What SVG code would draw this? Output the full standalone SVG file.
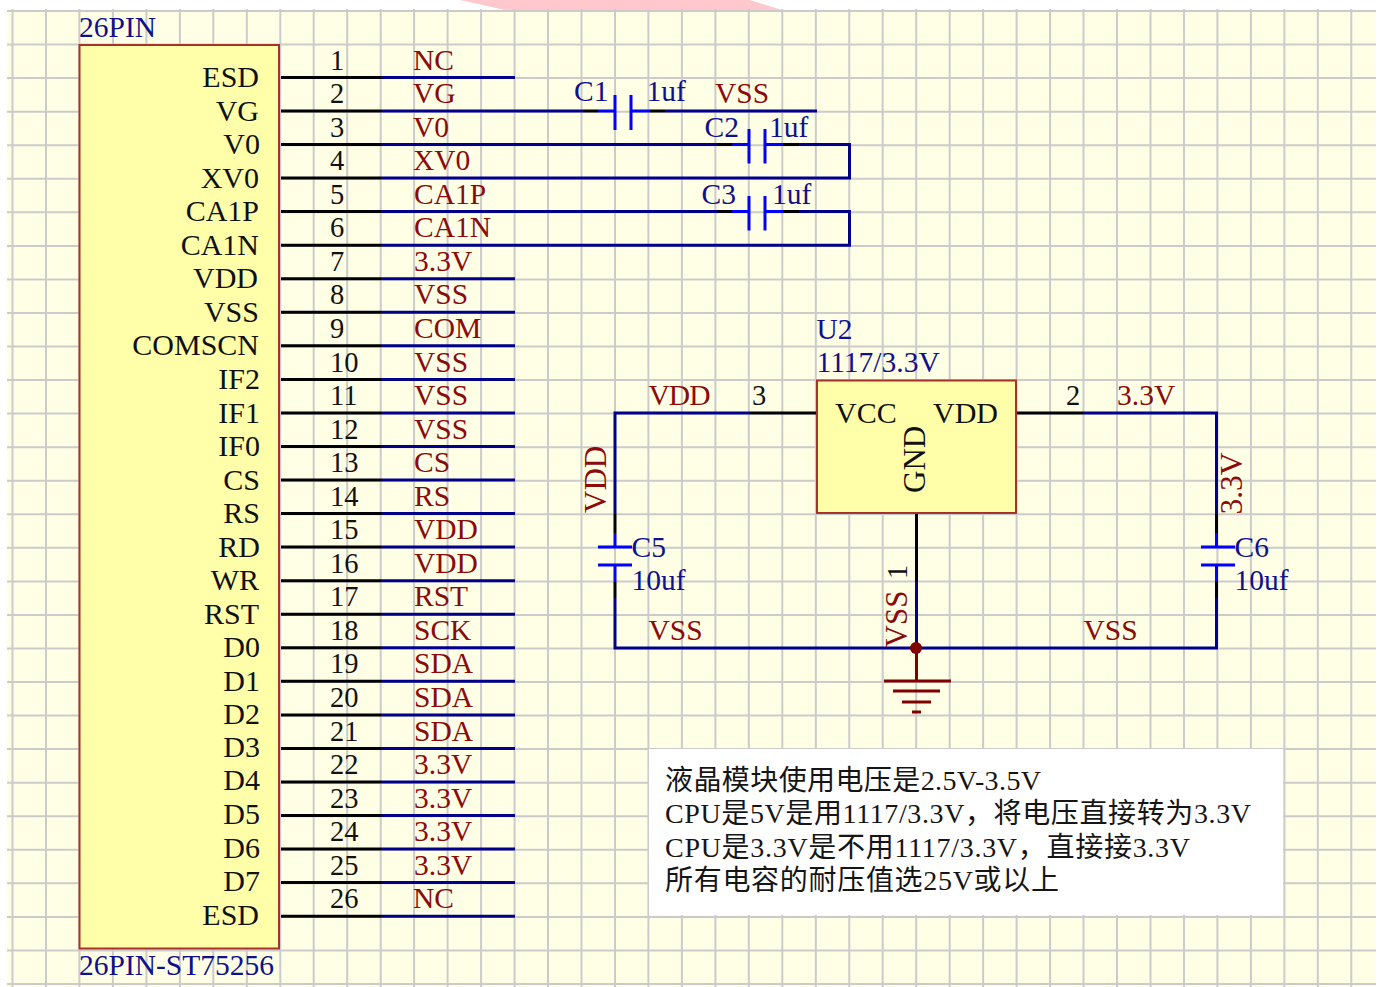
<svg xmlns="http://www.w3.org/2000/svg" width="1380" height="987" viewBox="0 0 1380 987">
<style>
text{font-family:"Liberation Serif","Noto Sans CJK SC",serif;font-size:29.5px}
.nm{fill:#111;text-anchor:end;font-size:30px}
.no{fill:#111;font-size:28.5px}
.net{fill:#8b0a0a}
.des{fill:#10108c}
.note{fill:#151515;font-size:28px}
.rot{font-size:31px}
.grid{stroke:#cbcbcb;stroke-width:2;fill:none}
.navy{stroke:#00008b;stroke-width:3;fill:none}
.blk{stroke:#000;stroke-width:3;fill:none}
.cap{stroke:#0000ff;stroke-width:3;fill:none}
.gnd{stroke:#800000;stroke-width:3;fill:none}
.box{fill:#ffffaa;stroke:#a5332a;stroke-width:2}
</style>
<rect width="1380" height="987" fill="#fff"/>
<path d="M460 0H750L782 10H505Z" fill="#ffc8cc"/>
<rect x="7" y="10" width="1369" height="977" fill="#ffffe6"/>
<path class="grid" d="M12.5 9V987M46 9V987M79.4 9V987M112.9 9V987M146.4 9V987M179.9 9V987M213.3 9V987M246.8 9V987M280.3 9V987M313.7 9V987M347.2 9V987M380.7 9V987M414.1 9V987M447.6 9V987M481.1 9V987M514.6 9V987M548 9V987M581.5 9V987M615 9V987M648.4 9V987M681.9 9V987M715.4 9V987M748.8 9V987M782.3 9V987M815.8 9V987M849.3 9V987M882.7 9V987M916.2 9V987M949.7 9V987M983.1 9V987M1016.6 9V987M1050.1 9V987M1083.5 9V987M1117 9V987M1150.5 9V987M1184 9V987M1217.4 9V987M1250.9 9V987M1284.4 9V987M1317.8 9V987M1351.3 9V987"/>
<path class="grid" d="M7 11H1376M7 44.6H1376M7 78.1H1376M7 111.7H1376M7 145.2H1376M7 178.8H1376M7 212.3H1376M7 245.9H1376M7 279.4H1376M7 313H1376M7 346.5H1376M7 380.1H1376M7 413.6H1376M7 447.2H1376M7 480.7H1376M7 514.3H1376M7 547.8H1376M7 581.4H1376M7 614.9H1376M7 648.5H1376M7 682H1376M7 715.6H1376M7 749.1H1376M7 782.7H1376M7 816.2H1376M7 849.8H1376M7 883.3H1376M7 916.9H1376M7 950.4H1376M7 984H1376"/>

<g id="connectors">
<path class="navy" transform="translate(0 .4)" d="M381 77H515M381 110.6H583M665 110.6H817M381 144.1H717M799 144.1H849.5V177.7H381M381 211.2H717M799 211.2H849.5V244.8H381M381 278.3H515M381 311.9H515M381 345.4H515M381 379H515M381 412.5H515M381 446.1H515M381 479.6H515M381 513.2H515M381 546.7H515M381 580.3H515M381 613.8H515M381 647.4H515M381 680.9H515M381 714.5H515M381 748H515M381 781.6H515M381 815.1H515M381 848.7H515M381 882.2H515M381 915.8H515"/>
<path class="blk" transform="translate(0 .4)" d="M281 77H381M281 110.6H381M281 144.1H381M281 177.7H381M281 211.2H381M281 244.8H381M281 278.3H381M281 311.9H381M281 345.4H381M281 379H381M281 412.5H381M281 446.1H381M281 479.6H381M281 513.2H381M281 546.7H381M281 580.3H381M281 613.8H381M281 647.4H381M281 680.9H381M281 714.5H381M281 748H381M281 781.6H381M281 815.1H381M281 848.7H381M281 882.2H381M281 915.8H381"/>
<path class="blk" transform="translate(0 .4)" d="M583 110.6H598M650 110.6H665M717 144.1H732M783 144.1H799M717 211.2H732M783 211.2H799"/>
<path class="navy" d="M750 413H615V514M615 598V648H1216.5V598M1216.5 514V413H1083"/>
<path class="blk" d="M750 413H817M1017 413H1083M615 514V533M615 582V598M1216.5 514V533M1216.5 582V598M916.5 514V581"/>
<path class="navy" d="M916.5 581V648"/>
</g>

<g id="pin-numbers" transform="translate(0 -.4)">
<text class="no" x="330" y="70">1</text><text class="no" x="330" y="103.6">2</text><text class="no" x="330" y="137.1">3</text><text class="no" x="330" y="170.7">4</text><text class="no" x="330" y="204.2">5</text><text class="no" x="330" y="237.8">6</text><text class="no" x="330" y="271.3">7</text><text class="no" x="330" y="304.9">8</text><text class="no" x="330" y="338.4">9</text><text class="no" x="330" y="372">10</text><text class="no" x="330" y="405.5">11</text><text class="no" x="330" y="439.1">12</text><text class="no" x="330" y="472.6">13</text><text class="no" x="330" y="506.2">14</text><text class="no" x="330" y="539.7">15</text><text class="no" x="330" y="573.3">16</text><text class="no" x="330" y="606.8">17</text><text class="no" x="330" y="640.4">18</text><text class="no" x="330" y="673.9">19</text><text class="no" x="330" y="707.5">20</text><text class="no" x="330" y="741">21</text><text class="no" x="330" y="774.6">22</text><text class="no" x="330" y="808.1">23</text><text class="no" x="330" y="841.7">24</text><text class="no" x="330" y="875.2">25</text><text class="no" x="330" y="908.8">26</text>
</g>
<g id="net-labels" transform="translate(0 -.4)">
<text class="net" x="413" y="70">NC</text><text class="net" x="413" y="103.6">VG</text><text class="net" x="413" y="137.1">V0</text><text class="net" x="413" y="170.7">XV0</text><text class="net" x="414" y="204.2">CA1P</text><text class="net" x="414" y="237.8">CA1N</text><text class="net" x="414" y="271.3">3.3V</text><text class="net" x="414" y="304.9">VSS</text><text class="net" x="414" y="338.4">COM</text><text class="net" x="414" y="372">VSS</text><text class="net" x="414" y="405.5">VSS</text><text class="net" x="414" y="439.1">VSS</text><text class="net" x="414" y="472.6">CS</text><text class="net" x="414" y="506.2">RS</text><text class="net" x="414" y="539.7">VDD</text><text class="net" x="414" y="573.3">VDD</text><text class="net" x="414" y="606.8">RST</text><text class="net" x="414" y="640.4">SCK</text><text class="net" x="414" y="673.9">SDA</text><text class="net" x="414" y="707.5">SDA</text><text class="net" x="414" y="741">SDA</text><text class="net" x="414" y="774.6">3.3V</text><text class="net" x="414" y="808.1">3.3V</text><text class="net" x="414" y="841.7">3.3V</text><text class="net" x="414" y="875.2">3.3V</text><text class="net" x="413" y="908.8">NC</text>
</g>

<g id="J1">
<rect class="box" x="79.5" y="45" width="199.5" height="903.5"/>
<text class="des" x="79" y="36.500">26PIN</text>
<text class="des" x="79" y="975">26PIN-ST75256</text>
<text class="nm" x="259" y="87">ESD</text><text class="nm" x="259" y="120.6">VG</text><text class="nm" x="260" y="154.1">V0</text><text class="nm" x="259" y="187.7">XV0</text><text class="nm" x="259" y="221.2">CA1P</text><text class="nm" x="259" y="254.8">CA1N</text><text class="nm" x="258" y="288.3">VDD</text><text class="nm" x="259" y="321.9">VSS</text><text class="nm" x="259" y="355.4">COMSCN</text><text class="nm" x="260" y="389">IF2</text><text class="nm" x="260" y="422.5">IF1</text><text class="nm" x="260" y="456.1">IF0</text><text class="nm" x="260" y="489.6">CS</text><text class="nm" x="260" y="523.2">RS</text><text class="nm" x="260" y="556.7">RD</text><text class="nm" x="259" y="590.3">WR</text><text class="nm" x="259" y="623.8">RST</text><text class="nm" x="260" y="657.4">D0</text><text class="nm" x="260" y="690.9">D1</text><text class="nm" x="260" y="724">D2</text><text class="nm" x="260" y="757">D3</text><text class="nm" x="260" y="790">D4</text><text class="nm" x="260" y="824">D5</text><text class="nm" x="260" y="857.7">D6</text><text class="nm" x="260" y="891.2">D7</text><text class="nm" x="259" y="924.500">ESD</text>
</g>

<g id="C1">
<path class="cap" d="M598 111H615M615 95V130M631 95V130M631 111H650"/>
<text class="des" x="574" y="100.500">C1</text><text class="des" x="646.500" y="100.500">1uf</text>
</g>
<text class="net" x="715" y="103">VSS</text>
<g id="C2">
<path class="cap" d="M732 144.500H749M749 129V163.500M765 129V163.500M765 144.500H783"/>
<text class="des" x="704.500" y="137">C2</text><text class="des" x="769" y="137">1uf</text>
</g>
<g id="C3">
<path class="cap" d="M732 211.600H749M749 196V230.500M765 196V230.500M765 211.600H783"/>
<text class="des" x="701.500" y="204">C3</text><text class="des" x="772" y="204">1uf</text>
</g>

<g id="U2">
<rect class="box" x="817" y="380.5" width="199" height="132.500"/>
<text class="des" x="816.500" y="338.500">U2</text>
<text class="des" x="816.500" y="372">1117/3.3V</text>
<text class="nm" style="text-anchor:start" x="835" y="423">VCC</text>
<text class="nm" style="text-anchor:start" x="933" y="423">VDD</text>
<text class="nm rot" style="text-anchor:start" transform="translate(925 493) rotate(-90)">GND</text>
</g>
<text class="no" x="752" y="405">3</text>
<text class="no" x="1066" y="405">2</text>
<text class="no" transform="translate(907 579) rotate(-90)">1</text>
<text class="net" x="648.500" y="405" textLength="62">VDD</text>
<text class="net" x="1117" y="405">3.3V</text>
<text class="net rot" transform="translate(606 513) rotate(-90)">VDD</text>
<text class="net rot" transform="translate(1242 514.500) rotate(-90)" style="font-size:31.500px">3.3V</text>
<text class="net" x="648.500" y="640">VSS</text>
<text class="net" x="1083.500" y="640">VSS</text>
<text class="net rot" transform="translate(907 647.500) rotate(-90)">VSS</text>

<g id="C5">
<path class="cap" d="M615 533V547M598 547H632M598 565H632M615 565V582"/>
<text class="des" x="631.500" y="557">C5</text><text class="des" x="631.500" y="590">10uf</text>
</g>
<g id="C6">
<path class="cap" d="M1216.5 533V547M1201 547H1235M1201 565H1235M1216.500 565V582"/>
<text class="des" x="1234.500" y="557">C6</text><text class="des" x="1234.500" y="590">10uf</text>
</g>

<g id="GND">
<circle cx="916" cy="648" r="6" fill="#800000"/>
<path class="gnd" d="M916.5 648V681M884 681H951M893 691H940M902 702H931M912 712H921"/>
</g>

<g id="note">
<rect x="649" y="749" width="634" height="166" fill="#fff"/>
<text class="note" x="665" y="790" textLength="376">液晶模块使用电压是2.5V-3.5V</text>
<text class="note" x="665" y="823" textLength="586">CPU是5V是用1117/3.3V，将电压直接转为3.3V</text>
<text class="note" x="665" y="857" textLength="525">CPU是3.3V是不用1117/3.3V，直接接3.3V</text>
<text class="note" x="665" y="890" textLength="394">所有电容的耐压值选25V或以上</text>
</g>
</svg>
